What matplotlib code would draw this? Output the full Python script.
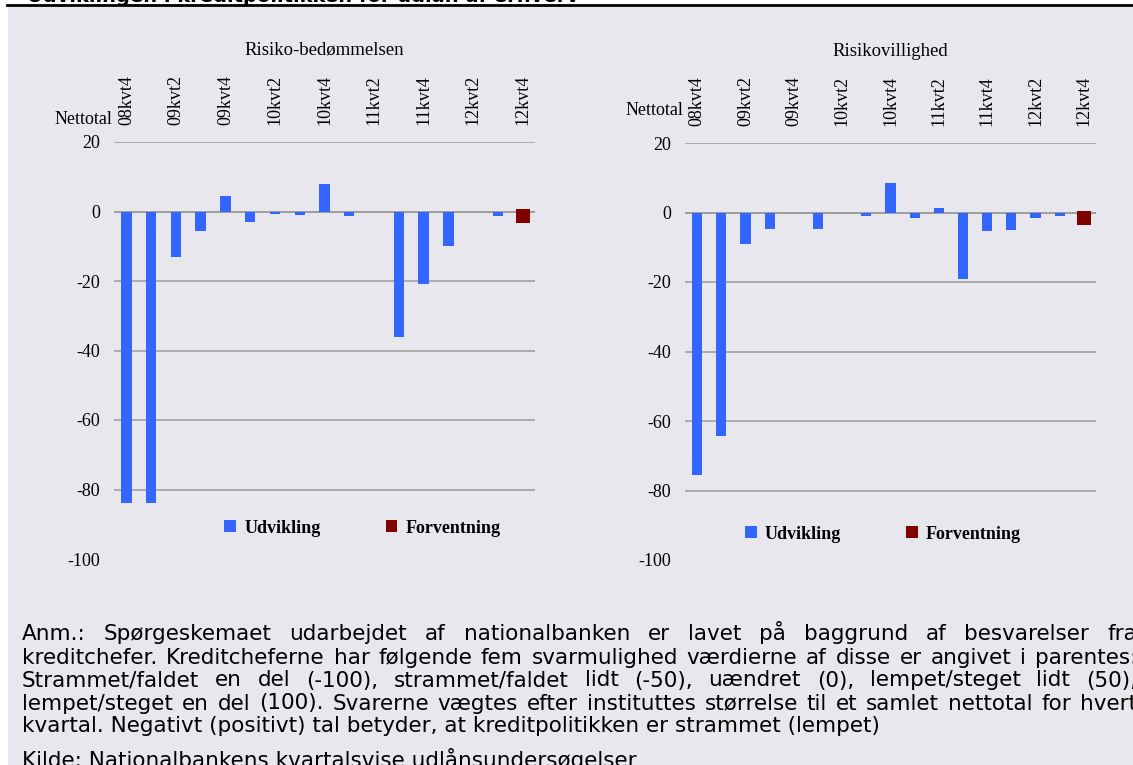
import matplotlib

matplotlib.use("Agg")  # headless
import matplotlib.pyplot as plt
import numpy as np
from matplotlib.lines import Line2D
from matplotlib.patches import Patch, Rectangle

# --------------------------------------------------------------------------- #
# Data
# --------------------------------------------------------------------------- #
QUARTERS = ["08kvt4",
            "09kvt1", "09kvt2", "09kvt3", "09kvt4",
            "10kvt1", "10kvt2", "10kvt3", "10kvt4",
            "11kvt1", "11kvt2", "11kvt3", "11kvt4",
            "12kvt1", "12kvt2", "12kvt3", "12kvt4"]
nan = np.nan

risiko_udv = [-84, -84, -13, -5.5, 4.6, -2.9, -0.6, -0.9, 8.0, -1.4,
              0, -36, -21, -9.8, 0, -1.4, nan]
risiko_forv = [nan] * 16 + [-1.2]

villig_udv = [-75.5, -64.3, -9.0, -4.7, 0, -4.7, 0, -1.0, 8.4, -1.5,
              1.2, -19.1, -5.4, -5.1, -1.5, -1.0, nan]
villig_forv = [nan] * 16 + [-1.5]

PANELS = [
    ("Risiko-bedømmelsen", risiko_udv, risiko_forv),
    ("Risikovillighed", villig_udv, villig_forv),
]
YTICKS = [20, 0, -20, -40, -60, -80, -100]

TITLE = "Udviklingen i kreditpolitikken for udlån af erhverv"
NOTE_LINES = [
    ("Anm.: Spørgeskemaet udarbejdet af nationalbanken er lavet på baggrund af besvarelser fra", True),
    ("kreditchefer. Kreditcheferne har følgende fem svarmulighed værdierne af disse er angivet i parentes:", True),
    ("Strammet/faldet en del (-100), strammet/faldet lidt (-50), uændret (0), lempet/steget lidt (50),", True),
    ("lempet/steget en del (100). Svarerne vægtes efter instituttes størrelse til et samlet nettotal for hvert", True),
    ("kvartal. Negativt (positivt) tal betyder, at kreditpolitikken er strammet (lempet)", False),
    ("Kilde: Nationalbankens kvartalsvise udlånsundersøgelser", False),
]

# --------------------------------------------------------------------------- #
# Style
# --------------------------------------------------------------------------- #
W, H = 1133, 765
BG = "#E8E7EE"
BLUE = "#3366FF"
DARKRED = "#800000"
GRID = "#9a9a9a"
SERIF = "Liberation Serif"
SANS = "DejaVu Sans"

# axes boxes in pixels: (left, top, right, bottom)
BOXES = [(114, 142, 535, 559), (685, 143, 1096, 560)]
LEGEND_POS = [(0.59, 0.074), (0.482, 0.062)]
NETTOTAL_Y = [1.053, 1.079]


def px_box(l, t, r, b):
    return [l / W, 1 - b / H, (r - l) / W, (b - t) / H]


fig = plt.figure(figsize=(W / 100, H / 100), dpi=100, facecolor=BG)

# white strips / black rule of the screenshot frame
fig.patches.append(Rectangle((0, 1 - 5 / H), 1, 5 / H, transform=fig.transFigure,
                             color="white", zorder=0))
fig.patches.append(Rectangle((0, 0), 7 / W, 1, transform=fig.transFigure,
                             color="white", zorder=0))
fig.lines.append(Line2D([7 / W, 1], [1 - 5 / H] * 2, transform=fig.transFigure,
                        color="black", lw=2))
fig.text(27 / W, 1 - 2 / H, TITLE, va="baseline", ha="left", fontsize=14,
         fontweight="bold", family=SANS)

x = np.arange(len(QUARTERS))
for i, (title, udv, forv) in enumerate(PANELS):
    ax = fig.add_axes(px_box(*BOXES[i]))
    ax.set_facecolor("none")

    for yv in YTICKS[:-1]:
        ax.axhline(yv, color="#888888" if yv == 0 else GRID, lw=1.1, zorder=1)

    ax.bar(x, udv, width=0.42, color=BLUE, zorder=2)
    ax.plot(x, forv, ls="none", marker="s", ms=10, color=DARKRED,
            markeredgewidth=0, zorder=3)

    ax.set_xlim(-0.5, len(QUARTERS) - 0.5)
    ax.set_ylim(-100, 20)
    ax.set_yticks(YTICKS)
    ax.set_yticklabels([str(v) for v in YTICKS], family=SERIF, fontsize=13)

    ax.xaxis.tick_top()
    ax.set_xticks(x[::2])
    ax.set_xticklabels(QUARTERS[::2], rotation=90, family=SERIF, fontsize=13)
    ax.tick_params(axis="x", length=0, pad=12)
    ax.tick_params(axis="y", length=0, pad=10)
    for s in ax.spines.values():
        s.set_visible(False)

    ax.text(0.5, 1 + (142 - 50) / 417, title, transform=ax.transAxes,
            ha="center", va="center", family=SERIF, fontsize=13.5)
    ax.text(-0.005, NETTOTAL_Y[i], "Nettotal", transform=ax.transAxes,
            ha="right", va="center", family=SERIF, fontsize=13)

    handles = [Patch(facecolor=BLUE, label="Udvikling"),
               Patch(facecolor=DARKRED, label="Forventning")]
    ax.legend(handles=handles, loc="center", bbox_to_anchor=LEGEND_POS[i],
              ncol=2, frameon=False, handlelength=0.65, handleheight=0.65,
              handletextpad=0.45, columnspacing=3.6,
              prop={"family": SERIF, "weight": "bold", "size": 13})

# --------------------------------------------------------------------------- #
# Footnote, first lines justified like the source document
# --------------------------------------------------------------------------- #
renderer = fig.canvas.get_renderer()
NOTE_X0, NOTE_X1 = 22, 1137
BASELINES = [640.5, 663.5, 686.5, 709.5, 732.5, 767]
note_kw = dict(family=SANS, fontsize=15.5, va="baseline", ha="left")

for (line, justify), base in zip(NOTE_LINES, BASELINES):
    y = 1 - base / H
    if not justify:
        fig.text(NOTE_X0 / W, y, line, **note_kw)
        continue
    words = line.split(" ")
    arts = [fig.text(0, y, w, **note_kw) for w in words]
    widths = [a.get_window_extent(renderer).width for a in arts]
    gap = (NOTE_X1 - NOTE_X0 - sum(widths)) / (len(words) - 1)
    xp = NOTE_X0
    for a, w in zip(arts, widths):
        a.set_x(xp / W)
        xp += w + gap

fig.savefig("out.png", dpi=100, facecolor=BG)
